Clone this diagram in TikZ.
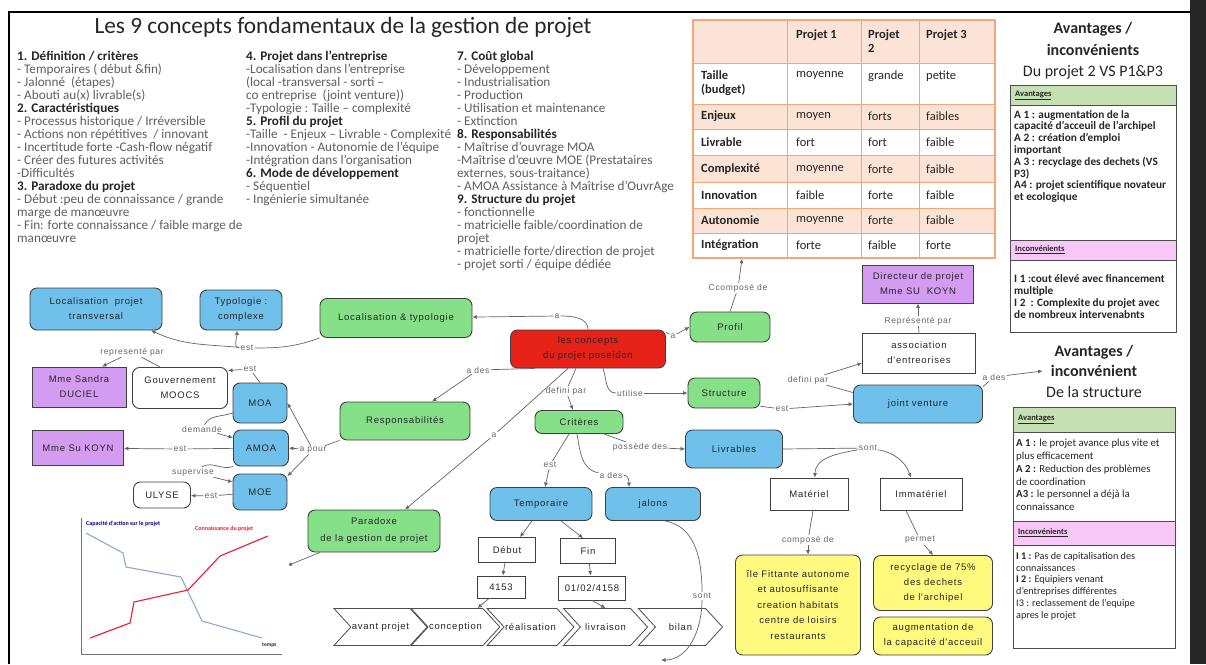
\documentclass[tikz,border=0pt]{standalone}
\usepackage{fontspec}
\setmainfont{Carlito}
\newfontfamily\mapfont[LetterSpace=8]{Liberation Sans}
\usetikzlibrary{arrows.meta, positioning, shapes.symbols}
\usepackage{xcolor}

\definecolor{mapblue}{RGB}{112,192,236}
\definecolor{mapgreen}{RGB}{134,224,136}
\definecolor{mapred}{RGB}{230,34,24}
\definecolor{mappurple}{RGB}{212,156,240}
\definecolor{mapyellow}{RGB}{255,249,125}
\definecolor{peach}{RGB}{251,228,213}
\definecolor{tableorange}{RGB}{241,168,118}
\definecolor{okgreen}{RGB}{197,224,178}
\definecolor{kopink}{RGB}{249,200,249}
\definecolor{linkgray}{RGB}{100,100,100}
\definecolor{bodygray}{RGB}{95,95,95}
\definecolor{chartblue}{RGB}{140,170,210}
\definecolor{chartred}{RGB}{236,28,52}

\newcommand{\colhead}[1]{{\bfseries\color{black!85}#1}}

\begin{document}
\begin{tikzpicture}[x=1pt, y=-1pt, >={Latex[length=4.5pt,width=4pt]}]
    \tikzstyle{concept}=[rounded corners=7pt, draw=black!75, line width=0.9pt, align=center, inner sep=2pt, text=black!85, font=\mapfont\fontsize{9.5}{15}\selectfont]
    \tikzstyle{blue concept}=[concept, fill=mapblue]
    \tikzstyle{green concept}=[concept, fill=mapgreen]
    \tikzstyle{red concept}=[concept, fill=mapred]
    \tikzstyle{yellow concept}=[concept, fill=mapyellow]
    \tikzstyle{white concept}=[concept, fill=white]
    \tikzstyle{person}=[concept, rounded corners=0pt, fill=mappurple]
    \tikzstyle{plain box}=[concept, rounded corners=0pt, fill=white]
    \tikzstyle{link}=[font=\mapfont\fontsize{8.5}{10}\selectfont, text=linkgray, fill=white, inner sep=1pt]
    \tikzstyle{mapline}=[draw=linkgray, line width=0.7pt]
    \tikzstyle{maparrow}=[mapline, ->]
    \tikzstyle{phase}=[signal, signal from=west, signal to=east, signal pointer angle=95, draw=black!70, fill=white, line width=0.8pt, minimum width=84, minimum height=37, inner sep=1pt, font=\mapfont\fontsize{9.5}{11}\selectfont, text=black!85]
    \tikzstyle{column}=[anchor=north west, align=left, inner sep=0pt, text=bodygray, font=\fontsize{13.2}{13}\selectfont]
    \tikzstyle{cell}=[anchor=west, inner sep=0pt, align=left, text=black!85, font=\fontsize{12.5}{14}\selectfont]
    \tikzstyle{bold cell}=[cell, font=\bfseries\fontsize{12.5}{14}\selectfont]
    \tikzstyle{panel head}=[anchor=west, inner sep=0pt, text=black!85, font=\bfseries\fontsize{8.5}{10}\selectfont]

    \useasboundingbox (0,0) rectangle (1206,664);
    \fill[white] (0,0) rectangle (1206,664);
    \fill[black!85] (1190,0) rectangle (1206,664);
    \draw[black, line width=2pt] (9,664) -- (9,12) -- (1190,12);

    % Draw the title and the three columns of notes
    \node[font=\fontsize{23.3}{27}\selectfont, text=black!85] (title) at (343,27) {Les 9 concepts fondamentaux de la gestion de projet};

    \node[column] (col-1) at (17,51) {\colhead{1. Définition / critères}\\
        - Temporaires ( début \&fin)\\
        - Jalonné~~(étapes)\\
        - Abouti au(x) livrable(s)\\
        \colhead{2. Caractéristiques}\\
        - Processus historique / Irréversible\\
        - Actions non répétitives~ / innovant\\
        - Incertitude forte -Cash-flow négatif\\
        - Créer des futures activités\\
        -Difficultés\\
        \colhead{3. Paradoxe du projet}\\
        - Début :peu de connaissance / grande\\
        marge de manœuvre\\
        - Fin: forte connaissance / faible marge de\\
        manœuvre};

    \node[column] (col-2) at (246,51) {\colhead{4. Projet dans l'entreprise}\\
        -Localisation dans l'entreprise\\
        (local -transversal - sorti –\\
        co entreprise~ (joint venture))\\
        -Typologie : Taille – complexité\\
        \colhead{5. Profil du projet}\\
        -Taille~ - Enjeux – Livrable - Complexité\\
        -Innovation - Autonomie de l'équipe\\
        -Intégration dans l'organisation\\
        \colhead{6. Mode de développement}\\
        - Séquentiel\\
        - Ingénierie simultanée};

    \node[column] (col-3) at (457,51) {\colhead{7. Coût global}\\
        - Développement\\
        - Industrialisation\\
        - Production\\
        - Utilisation et maintenance\\
        - Extinction\\
        \colhead{8. Responsabilités}\\
        - Maîtrise d'ouvrage MOA\\
        -Maîtrise d'œuvre MOE (Prestataires\\
        externes, sous-traitance)\\
        - AMOA Assistance à Maîtrise d'OuvrAge\\
        \colhead{9. Structure du projet}\\
        - fonctionnelle\\
        - matricielle faible/coordination de\\
        projet\\
        - matricielle forte/direction de projet\\
        - projet sorti / équipe dédiée};

    % Draw the table of the three projects
    \foreach \top/\bot in {20/63,104/129,155/182,208/233}
        \fill[peach] (693,\top) rectangle (995,\bot);
    \foreach \y in {63,104,129,155,182,208,233}
        \draw[tableorange, line width=0.8pt] (693,\y) -- (995,\y);
    \foreach \x in {787,861,919}
        \draw[tableorange, line width=0.8pt] (\x,20) -- (\x,258);
    \node[draw=tableorange, line width=1.5pt, minimum width=302, minimum height=238, inner sep=0pt] (projets) at (844,139) {};

    \node[bold cell, anchor=north west] (h-1) at (796,30) {Projet 1};
    \node[bold cell, anchor=north west] (h-2) at (868,30) {Projet\\2};
    \node[bold cell, anchor=north west] (h-3) at (926,30) {Projet 3};
    \node[bold cell, anchor=north west] (r1-0) at (701,71) {Taille\\(budget)};
    \node[cell, anchor=north west] (r1-1) at (796,71) {moyenne};
    \node[cell, anchor=north west] (r1-2) at (868,71) {grande};
    \node[cell, anchor=north west] (r1-3) at (926,71) {petite};
    \foreach \r/\y/\lab/\pa/\pb/\pc in {2/116/Enjeux/moyen/forts/faibles,
        3/142/Livrable/fort/fort/faible, 4/169/Complexité/moyenne/forte/faible,
        5/195/Innovation/faible/forte/faible, 6/220/Autonomie/moyenne/forte/faible,
        7/245/Intégration/forte/faible/forte}
    {
        \node[bold cell] (r\r-0) at (701,\y) {\lab};
        \node[cell] (r\r-1) at (796,\y) {\pa};
        \node[cell] (r\r-2) at (868,\y) {\pb};
        \node[cell] (r\r-3) at (926,\y) {\pc};
    }

    % Draw the two panels of pros and cons
    \node[font=\fontsize{16}{21.5}\selectfont, align=center, text=black!85] (adv title) at (1093,51) {\textbf{Avantages /}\\\textbf{inconvénients}\\Du projet 2 VS P1\&P3};
    \fill[okgreen] (1010,85) rectangle (1176,105);
    \fill[kopink] (1010,240) rectangle (1176,260);
    \draw[black!70, line width=0.8pt] (1010,85) rectangle (1176,332);
    \draw[black!70, line width=0.8pt] (1010,105) -- (1176,105) (1010,240) -- (1176,240) (1010,260) -- (1176,260);
    \node[panel head] (adv-a) at (1015,95) {\underline{Avantages}};
    \node[panel head] (adv-i) at (1015,250) {\underline{Inconvénients}};
    \node[anchor=north west, inner sep=0pt, align=left, text=black!85, font=\bfseries\fontsize{11.3}{11.8}\selectfont] (adv-atext) at (1014,110) {A 1 : augmentation de la\\
        capacité d'acceuil de l'archipel\\
        A 2 : création d'emploi\\
        important\\
        A 3 : recyclage des dechets (VS\\
        P3)\\
        A4 : projet scientifique novateur\\
        et ecologique};
    \node[anchor=north west, inner sep=0pt, align=left, text=black!85, font=\bfseries\fontsize{11.3}{12}\selectfont] (adv-itext) at (1014,274) {I 1 :cout élevé avec financement\\
        multiple\\
        I 2~ : Complexite du projet avec\\
        de nombreux intervenabnts};

    \node[font=\fontsize{16}{20.5}\selectfont, align=center, text=black!85] (struct title) at (1094,371) {\textbf{Avantages /}\\\textbf{inconvénient}\\De la structure};
    \fill[okgreen] (1013,407) rectangle (1175,432);
    \fill[kopink] (1013,521) rectangle (1175,545);
    \draw[black!70, line width=0.8pt] (1013,407) rectangle (1175,648);
    \draw[black!70, line width=0.8pt] (1013,432) -- (1175,432) (1013,521) -- (1175,521) (1013,545) -- (1175,545);
    \node[panel head] (str-a) at (1018,419.5) {\underline{Avantages}};
    \node[panel head] (str-i) at (1018,533) {\underline{Inconvénients}};
    \node[anchor=north west, inner sep=0pt, align=left, text=black!85, font=\fontsize{10.8}{12.8}\selectfont] (str-atext) at (1016,439) {\textbf{A 1 :} le projet avance plus vite et\\
        plus efficacement\\
        \textbf{A 2 :} Reduction des problèmes\\
        de coordination\\
        \textbf{A3 :} le personnel a déjà la\\
        connaissance};
    \node[anchor=north west, inner sep=0pt, align=left, text=black!85, font=\fontsize{10.2}{11.8}\selectfont] (str-itext) at (1016,552) {\textbf{I 1 :} Pas de capitalisation des\\
        connaissances\\
        \textbf{I 2 :} Equipiers venant\\
        d'entreprises différentes\\
        I3 : reclassement de l'equipe\\
        apres le projet};

    % Draw the small chart of the paradox
    \draw[black!55, line width=0.8pt] (81,518) -- (81,654) -- (282,654);
    \draw[chartblue, line width=1.1pt] (86,533) -- (123,553) -- (126,567) -- (181,577) -- (202,621) -- (262,638);
    \draw[chartred, line width=1.1pt] (90,638) -- (130,623) -- (134,602) -- (188,590) -- (220,556) -- (268,536);
    \node[anchor=west, inner sep=0pt, text=blue!60!black, font=\bfseries\fontsize{6}{7}\selectfont] (cap label) at (86,524) {Capacité d'action sur le projet};
    \node[anchor=west, inner sep=0pt, text=chartred, font=\bfseries\fontsize{6}{7}\selectfont] (con label) at (195,529) {Connaissance du projet};
    \node[anchor=west, inner sep=0pt, text=black!85, font=\bfseries\fontsize{5.5}{7}\selectfont] (temps label) at (262,645) {temps};

    % Draw the concept map nodes
    \node[blue concept, minimum width=132, minimum height=42] (loctrans) at (96,309) {Localisation~ projet\\transversal};
    \node[blue concept, minimum width=82, minimum height=40] (typo) at (241,310) {Typologie :\\complexe};
    \node[green concept, minimum width=152, minimum height=39] (loctypo) at (396,318) {Localisation \& typologie};
    \node[red concept, minimum width=155, minimum height=38] (concepts) at (588,349) {les concepts\\du projet poseidon};
    \node[green concept, minimum width=80, minimum height=30] (profil) at (730,327) {Profil};
    \node[person, minimum width=111, minimum height=38] (directeur) at (918,284) {Directeur de projet\\Mme SU~ KOYN};
    \node[plain box, minimum width=113, minimum height=40] (assoc) at (919,353) {association\\d'entreorises};
    \node[person, minimum width=94, minimum height=40] (sandra) at (79,387) {Mme Sandra\\DUCIEL};
    \node[white concept, minimum width=95, minimum height=41] (gouv) at (180,388) {Gouvernement\\MOOCS};
    \node[blue concept, minimum width=54, minimum height=40] (moa) at (260,403) {MOA};
    \node[green concept, minimum width=130, minimum height=38] (resp) at (405,421) {Responsabilités};
    \node[green concept, minimum width=88, minimum height=23] (criteres) at (579,422) {Critères};
    \node[green concept, minimum width=72, minimum height=30] (structure) at (724,393) {Structure};
    \node[blue concept, minimum width=129, minimum height=38] (jv) at (918,404) {joint venture};
    \node[person, minimum width=91, minimum height=35] (sukoyn) at (78,448) {Mme Su KOYN};
    \node[blue concept, minimum width=55, minimum height=36] (amoa) at (261,448) {AMOA};
    \node[blue concept, minimum width=97, minimum height=38] (livrables) at (734,449) {Livrables};
    \node[blue concept, minimum width=54, minimum height=36] (moe) at (260,492) {MOE};
    \node[white concept, minimum width=57, minimum height=26] (ulyse) at (162,495) {ULYSE};
    \node[blue concept, minimum width=102, minimum height=33] (temporaire) at (541,504) {Temporaire};
    \node[blue concept, minimum width=95, minimum height=33] (jalons) at (653,504) {jalons};
    \node[plain box, minimum width=78, minimum height=32] (materiel) at (809,494) {Matériel};
    \node[plain box, minimum width=82, minimum height=32] (immateriel) at (921,494) {Immatériel};
    \node[green concept, minimum width=132, minimum height=42, font=\mapfont\fontsize{9.5}{17}\selectfont] (paradoxe) at (374,531) {Paradoxe\\de la gestion de projet};
    \node[plain box, minimum width=57, minimum height=25] (debut) at (507,550) {Début};
    \node[plain box, minimum width=55, minimum height=25] (fin) at (588,551) {Fin};
    \node[plain box, minimum width=48, minimum height=22] (d4153) at (501,587) {4153};
    \node[plain box, minimum width=67, minimum height=24] (d4158) at (592,588) {01/02/4158};
    \node[yellow concept, minimum width=125, minimum height=100, font=\mapfont\fontsize{9.5}{15.5}\selectfont] (ile) at (798,605) {île Fittante autonome\\et autosuffisante\\creation habitats\\centre de loisirs\\restaurants};
    \node[yellow concept, minimum width=119, minimum height=55] (recyclage) at (933,583) {recyclage de 75\%\\des dechets\\de l'archipel};
    \node[yellow concept, minimum width=119, minimum height=38] (augment) at (933,636) {augmentation de\\la capacité d'acceuil};

    % Draw the phases of the project
    \foreach \i/\phasename in {1/avant projet,2/conception,3/réalisation,4/livraison,5/bilan}
        \node[phase] (ch\i) at ({380.5+75*(\i-1)},627) {\phasename};

    % Draw the linking words
    \node[link] (l-a1) at (557,316) {a};
    \node[link] (l-est1) at (247,348) {est};
    \node[link] (l-est2) at (250,369) {est};
    \node[link] (l-rep1) at (132,352) {representé par};
    \node[link] (l-pour) at (313,450) {a pour};
    \node[link] (l-dem) at (202,429) {demande};
    \node[link] (l-est3) at (180,449) {est};
    \node[link] (l-sup) at (193,472) {supervise};
    \node[link] (l-est4) at (211,496) {est};
    \node[link] (l-ades1) at (478,370) {a des};
    \node[link] (l-a2) at (494,435) {a};
    \node[link] (l-def1) at (566,391) {defini par};
    \node[link] (l-uti) at (630,393) {utilise};
    \node[link] (l-a3) at (673,336) {a};
    \node[link] (l-comp1) at (738,288) {Ccomposé de};
    \node[link] (l-est5) at (782,409) {est};
    \node[link] (l-def2) at (808,380) {defini par};
    \node[link] (l-rep2) at (918,321) {Représenté par};
    \node[link] (l-ades2) at (994,377) {a des};
    \node[link] (l-pos) at (640,447) {possède des};
    \node[link] (l-est6) at (550,465) {est};
    \node[link] (l-ades3) at (611,475) {a des};
    \node[link] (l-sont1) at (868,448) {sont};
    \node[link] (l-comp2) at (808,540) {composé de};
    \node[link] (l-perm) at (920,540) {permet};
    \node[link] (l-sont2) at (702,596) {sont};
    \coordinate (bilan end) at (661,660);
    \coordinate (chart dot) at (289,565);

    % Draw the connectors
    \draw[mapline] (concepts.north) to[out=90,in=0] (l-a1);
    \draw[maparrow] (l-a1) -- (loctypo);
    \draw[mapline] (loctypo.south west) to[out=200,in=0] (l-est1);
    \draw[maparrow] (l-est1) to[out=175,in=-25] ([xshift=55]loctrans.south);
    \draw[maparrow] (l-est1) to[out=180,in=-90] ([xshift=-4]typo.south);
    \draw[mapline] (moa.north) -- (l-est2);
    \draw[maparrow] (l-est2) -- (gouv.20);
    \draw[mapline] ([xshift=-20]gouv.north) -- (l-rep1);
    \draw[maparrow] (l-rep1) -- ([xshift=23]sandra.north);
    \draw[mapline] (resp.south west) -- (l-pour);
    \draw[maparrow] (l-pour) -- (moa.east);
    \draw[maparrow] (l-pour) -- (amoa.east);
    \draw[maparrow] (l-pour) -- (moe.30);
    \draw[mapline] (moa.200) to[out=200,in=60] (l-dem);
    \draw[maparrow] (l-dem) -- (amoa.160);
    \draw[mapline] (amoa) -- (l-est3);
    \draw[maparrow] (l-est3) -- (sukoyn);
    \draw[mapline] (amoa.south west) to[out=200,in=30] (l-sup);
    \draw[maparrow] (l-sup) -- (moe.160);
    \draw[mapline] (moe) -- (l-est4);
    \draw[maparrow] (l-est4) -- (ulyse);
    \draw[mapline] (concepts.200) -- (l-ades1);
    \draw[maparrow] (l-ades1) -- ([xshift=27]resp.north);
    \draw[mapline] ([xshift=-20]concepts.south) -- (l-a2);
    \draw[maparrow] (l-a2) -- ([xshift=31]paradoxe.north);
    \draw[mapline] ([xshift=-12]concepts.south) -- (l-def1);
    \draw[maparrow] (l-def1) -- ([xshift=-6]criteres.north);
    \draw[mapline] ([xshift=15]concepts.south) to[out=-70,in=180] (l-uti);
    \draw[maparrow] (l-uti) -- (structure.west);
    \draw[mapline] (concepts.12) -- (l-a3);
    \draw[maparrow] (l-a3) -- (profil.west);
    \draw[mapline] (profil.north) -- (l-comp1);
    \draw[maparrow] (l-comp1) -- ([xshift=-102]projets.south);
    \draw[mapline] (structure.-20) -- (l-est5);
    \draw[maparrow] (l-est5) -- (jv.west);
    \draw[mapline] (jv.170) -- (l-def2);
    \draw[maparrow] (l-def2) -- (assoc.190);
    \draw[mapline] (assoc.north) -- (l-rep2);
    \draw[maparrow] (l-rep2) -- (directeur.south);
    \draw[mapline] (jv.15) -- (l-ades2);
    \draw[maparrow] (l-ades2) -- (struct title.west);
    \draw[mapline] ([xshift=25]criteres.south) -- (l-pos);
    \draw[maparrow] (l-pos) -- (livrables.west);
    \draw[mapline] ([xshift=-10]criteres.south) -- (l-est6);
    \draw[maparrow] (l-est6) -- ([xshift=4]temporaire.north);
    \draw[mapline] ([xshift=-2]criteres.south) to[out=-80,in=170] (l-ades3);
    \draw[maparrow] (l-ades3) to[out=0,in=90] ([xshift=-24]jalons.north);
    \draw[mapline] (livrables.east) -- (l-sont1);
    \draw[maparrow] (l-sont1) to[out=190,in=90] ([xshift=6]materiel.north);
    \draw[maparrow] (l-sont1) to[out=-10,in=110] ([xshift=-10]immateriel.north);
    \draw[mapline] ([xshift=4]materiel.south) -- (l-comp2);
    \draw[maparrow] (l-comp2) -- ([xshift=10]ile.north);
    \draw[mapline] ([xshift=-15]immateriel.south) -- (l-perm);
    \draw[maparrow] (l-perm) -- (recyclage.north);
    \draw[maparrow] ([xshift=-9]temporaire.south) -- ([xshift=13]debut.north);
    \draw[maparrow] ([xshift=20]temporaire.south) -- ([xshift=-5]fin.north);
    \draw[maparrow] (debut) -- (d4153);
    \draw[maparrow] (fin) -- (d4158);
    \draw[maparrow] ([xshift=-12]d4153.south) -- ([xshift=22]ch2.north);
    \draw[maparrow] (d4158.south) -- (ch4.north);
    \draw[mapline] ([xshift=12]jalons.south) to[out=-10,in=90] (l-sont2);
    \draw[maparrow] (l-sont2) to[out=-90,in=0] (bilan end);
    \draw[mapline, -{Circle[length=3.5pt]}] ([xshift=-54]paradoxe.south) -- (chart dot);
\end{tikzpicture}
\end{document}
